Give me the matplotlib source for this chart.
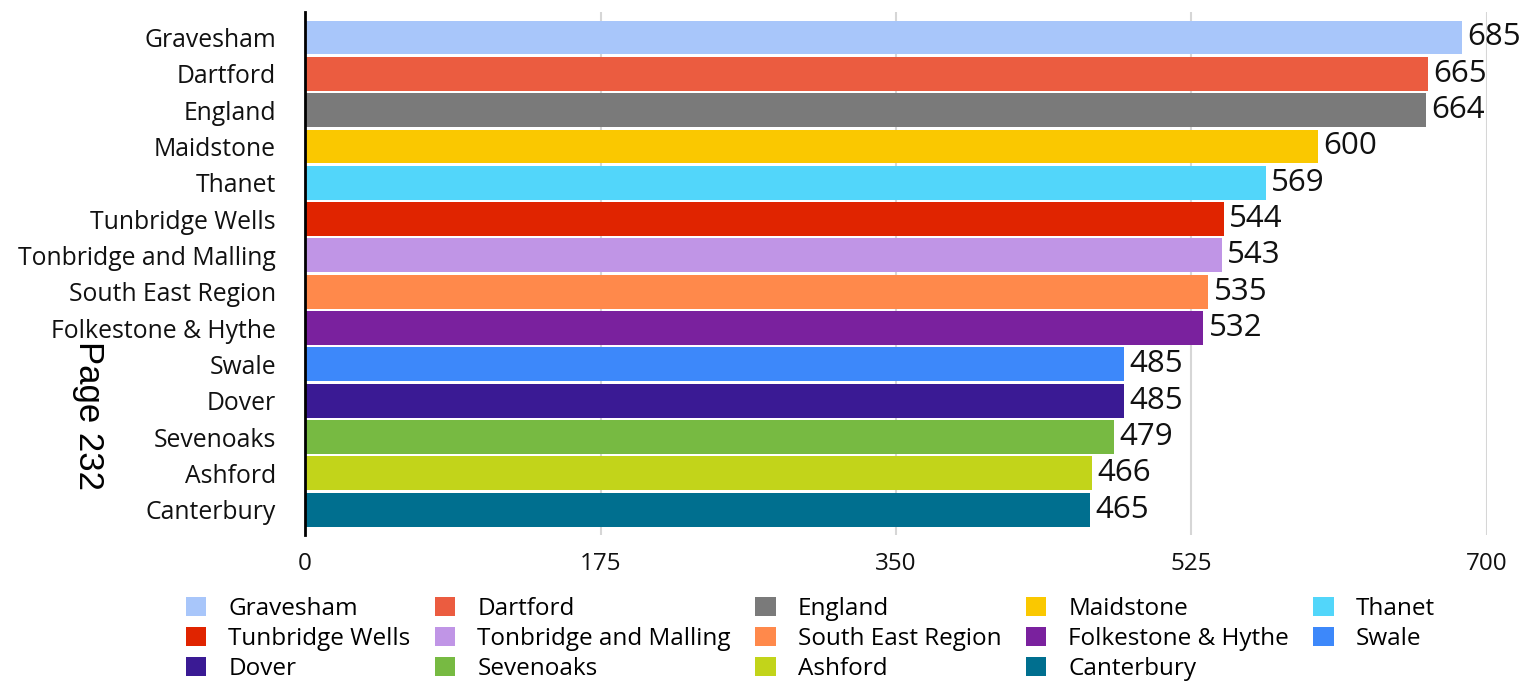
import matplotlib.pyplot as plt
from matplotlib.patches import Patch

plt.rcParams['font.family'] = ['Open Sans', 'DejaVu Sans']

# Areas and their values, top to bottom
areas = ["Gravesham", "Dartford", "England", "Maidstone", "Thanet",
         "Tunbridge Wells", "Tonbridge and Malling", "South East Region",
         "Folkestone & Hythe", "Swale", "Dover", "Sevenoaks", "Ashford",
         "Canterbury"]
values = [685, 665, 664, 600, 569, 544, 543, 535, 532, 485, 485, 479, 466, 465]
colors = ["#A8C6FA", "#EB5C40", "#7A7A7A", "#FAC800", "#52D6FA",
          "#E02400", "#C095E6", "#FF894B", "#7A219E", "#3D88FA",
          "#3A1A94", "#77BA42", "#C2D41A", "#006F8F"]
xticks = [0, 175, 350, 525, 700]

fig = plt.figure(figsize=(15.26, 6.86), dpi=100)
ax = fig.add_axes([0.1999, 0.220, 0.7745, 0.7625])

pos = list(range(len(areas)))
bars = ax.barh(pos, values, height=0.93, color=colors, zorder=2)
ax.bar_label(bars, labels=[str(v) for v in values], padding=4,
             fontsize=22.5, color="#111111")

ax.set_xlim(0, 700)
ax.set_ylim(len(areas) - 0.3, -0.7)
ax.set_xticks(xticks)
ax.set_xticklabels([str(t) for t in xticks], fontsize=17.5, color="#111111")
ax.set_yticks(pos)
ax.set_yticklabels(areas, fontsize=17.8, color="#111111")
ax.tick_params(length=0, pad=12, axis="x")
ax.tick_params(length=0, pad=21, axis="y")

ax.grid(axis="x", color="#D6D6D6", linewidth=1.5, zorder=0)
for side in ["top", "right", "bottom"]:
    ax.spines[side].set_visible(False)
ax.spines["left"].set_color("black")
ax.spines["left"].set_linewidth(2)
ax.spines["left"].set_zorder(3)

# legend fills row by row across five columns
ncol = 5
order = [i for c in range(ncol) for i in range(c, len(areas), ncol)]
handles = [Patch(facecolor=colors[i], label=areas[i]) for i in order]
fig.legend(handles=handles, loc="upper center", bbox_to_anchor=(0.531, 0.148),
           ncol=ncol, frameon=False, fontsize=17.5, handlelength=0.85,
           handleheight=0.85, handletextpad=0.9, columnspacing=1.0,
           labelspacing=0.25, borderpad=0)

fig.text(0.058, 0.395, "Page 232", rotation=270, fontsize=25,
         family=["Liberation Sans", "DejaVu Sans"], ha="center", va="center")

fig.savefig("out.png", dpi=100)
